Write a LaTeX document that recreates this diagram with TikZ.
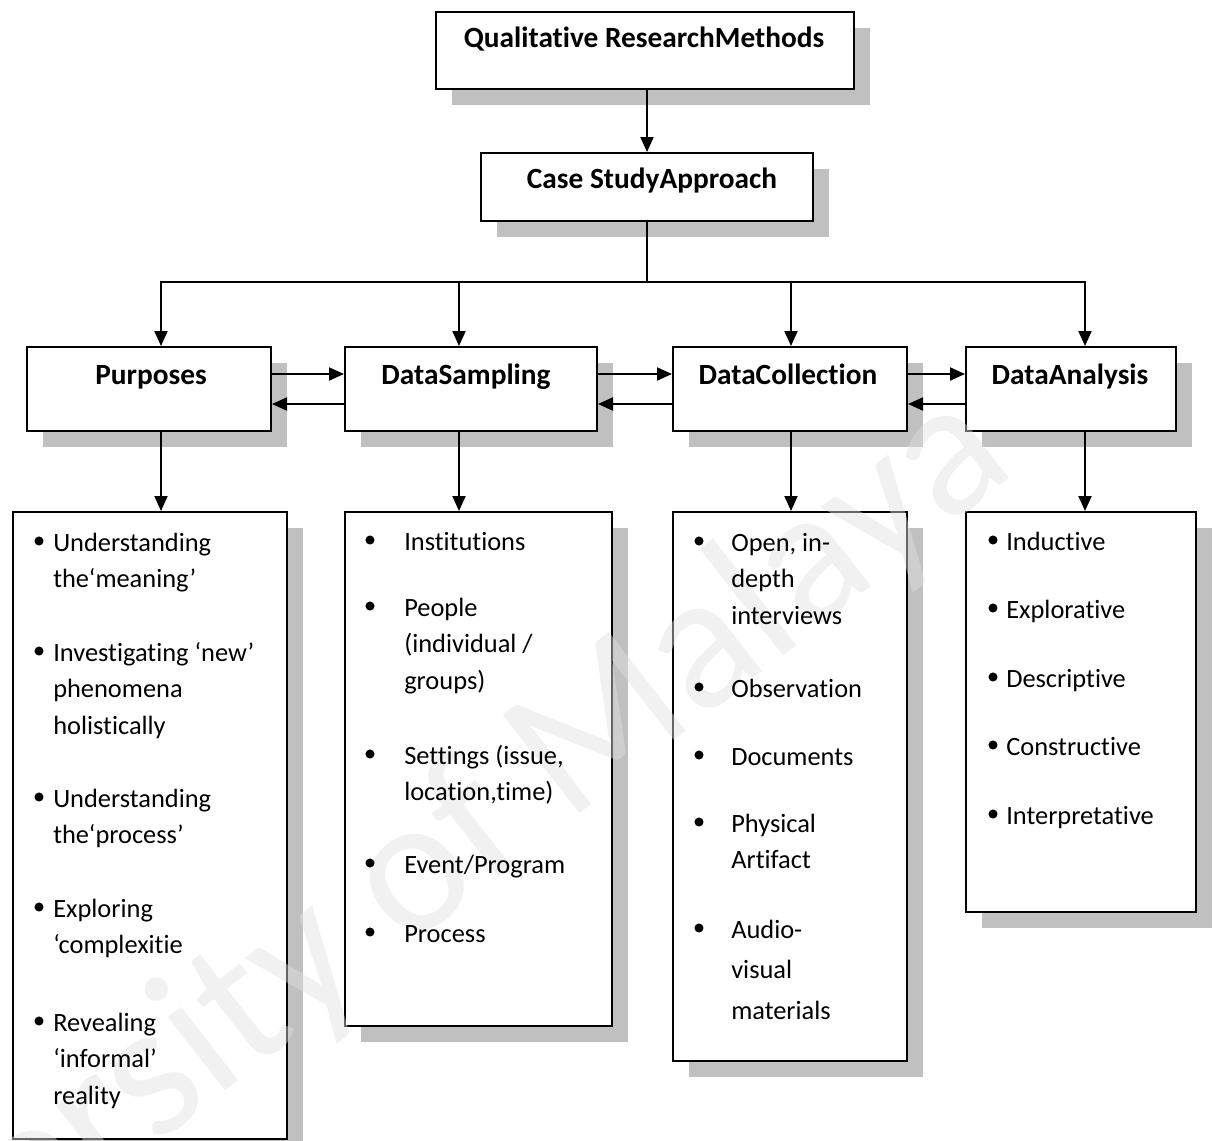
\documentclass[tikz,border=0pt]{standalone}
\usepackage{fontspec}
\setmainfont{Carlito}[Ligatures=NoCommon]
\usetikzlibrary{arrows.meta,shadows}
\definecolor{shadowgray}{RGB}{192,192,192}
\definecolor{markgray}{RGB}{225,225,225}
% stacked lines whose baseline is the first line
\newcommand\itemlines[1]{\begin{tabular}[t]{@{}l@{}}#1\end{tabular}}

\begin{document}
\begin{tikzpicture}[x=0.75pt,y=-0.75pt,
  box/.style={draw=black, fill=white, line width=1.5pt, rectangle, inner sep=0pt,
    anchor=north west,
    drop shadow={fill=shadowgray, opacity=1, shadow xshift=12pt, shadow yshift=-12pt}},
  ln/.style={line width=1.5pt},
  arr/.style={line width=1.5pt, -{Triangle[length=11.25pt,width=9.75pt]}},
  head/.style={font=\bfseries\fontsize{22}{26}\selectfont, anchor=base, inner sep=0pt},
  itm/.style={font=\fontsize{19.8}{27.4}\selectfont, anchor=base west, inner sep=0pt},
  dot/.style={fill=black}
]
\useasboundingbox (0,0) rectangle (1213,1140);

% ---------- boxes ----------
\node[box, minimum width={418*0.75pt}, minimum height={77*0.75pt}] (qrm) at (435,11) {};
\node[box, minimum width={332*0.75pt}, minimum height={68*0.75pt}] (csa) at (480,152) {};

\node[box, minimum width={244*0.75pt}, minimum height={84*0.75pt}] (pur)  at (26,346) {};
\node[box, minimum width={252*0.75pt}, minimum height={84*0.75pt}] (samp) at (344,346) {};
\node[box, minimum width={234*0.75pt}, minimum height={84*0.75pt}] (coll) at (672,346) {};
\node[box, minimum width={210*0.75pt}, minimum height={84*0.75pt}] (ana)  at (965,346) {};

\node[box, minimum width={274*0.75pt}, minimum height={627*0.75pt}] (pbox) at (12,511) {};
\node[box, minimum width={267*0.75pt}, minimum height={514*0.75pt}] (sbox) at (344,511) {};
\node[box, minimum width={234*0.75pt}, minimum height={549*0.75pt}] (cbox) at (672,511) {};
\node[box, minimum width={230*0.75pt}, minimum height={400*0.75pt}] (abox) at (965,511) {};

% ---------- faint watermark over the boxes ----------
\node[rotate=38, font=\fontsize{146}{146}\selectfont, text=markgray, opacity=0.45, inner sep=0pt]
  (wm) at (350,928) {University of Malaya};

% ---------- headings ----------
\node[head] (qrmT)  at (644,47)  {Qualitative ResearchMethods};
\node[head] (csaT)  at (652,188) {Case StudyApproach};
\node[head] (purT)  at (151,384) {Purposes};
\node[head] (sampT) at (466,384) {DataSampling};
\node[head] (collT) at (788,384) {DataCollection};
\node[head] (anaT)  at (1070,384) {DataAnalysis};

% ---------- connectors ----------
\draw[arr] (csa.north |- qrm.south) -- (csa.north);

\coordinate (busP) at (161,282);
\coordinate (busS) at (459,282);
\coordinate (busC) at (791,282);
\coordinate (busA) at (1085,282);
\draw[ln] (csa.south) -- (csa.south |- busP);
\draw[ln, line cap=rect] (busP) -- (busA);
\draw[arr] (busP) -- (busP |- pur.north);
\draw[arr] (busS) -- (busS |- samp.north);
\draw[arr] (busC) -- (busC |- coll.north);
\draw[arr] (busA) -- (busA |- ana.north);

\draw[arr] (busP |- pur.south)  -- (busP |- pbox.north);
\draw[arr] (busS |- samp.south) -- (busS |- sbox.north);
\draw[arr] (busC |- coll.south) -- (busC |- cbox.north);
\draw[arr] (busA |- ana.south)  -- (busA |- abox.north);

\draw[arr] ([yshift=11.25pt]pur.east)   -- ([yshift=11.25pt]samp.west);
\draw[arr] ([yshift=-11.25pt]samp.west) -- ([yshift=-11.25pt]pur.east);
\draw[arr] ([yshift=11.25pt]samp.east)  -- ([yshift=11.25pt]coll.west);
\draw[arr] ([yshift=-11.25pt]coll.west) -- ([yshift=-11.25pt]samp.east);
\draw[arr] ([yshift=11.25pt]coll.east)  -- ([yshift=11.25pt]ana.west);
\draw[arr] ([yshift=-11.25pt]ana.west)  -- ([yshift=-11.25pt]coll.east);

% ---------- Purposes list ----------
\foreach \yy in {551,661,807,917,1031} \fill[dot] (39,\yy-10) circle[radius=3.4pt];
\node[itm] (p1) at (53,551)  {\itemlines{Understanding\\the‘meaning’}};
\node[itm] (p2) at (53,661)  {\itemlines{Investigating ‘new’\\phenomena\\holistically}};
\node[itm] (p3) at (53,807)  {\itemlines{Understanding\\the‘process’}};
\node[itm] (p4) at (53,917)  {\itemlines{Exploring\\‘complexitie}};
\node[itm] (p5) at (53,1031) {\itemlines{Revealing\\‘informal’\\reality}};

% ---------- Data sampling list ----------
\foreach \yy in {550,616,764,873,942} \fill[dot] (370,\yy-10) circle[radius=3.4pt];
\node[itm] (s1) at (404,550) {Institutions};
\node[itm] (s2) at (404,616) {\itemlines{People\\(individual /\\groups)}};
\node[itm] (s3) at (404,764) {\itemlines{Settings (issue,\\location,time)}};
\node[itm] (s4) at (404,873) {Event/Program};
\node[itm] (s5) at (404,942) {Process};

% ---------- Data collection list ----------
\foreach \yy in {551,697,765,832,938} \fill[dot] (699,\yy-10) circle[radius=3.4pt];
\node[itm] (c1) at (731,551) {\itemlines{Open, in-\\depth\\interviews}};
\node[itm] (c2) at (731,697) {Observation};
\node[itm] (c3) at (731,765) {Documents};
\node[itm] (c4) at (731,832) {\itemlines{Physical\\Artifact}};
\node[itm] (c5) at (731,938) {\itemlines{Audio-\\[3pt]visual\\[3pt]materials}};

% ---------- Data analysis list ----------
\foreach \yy in {550,618,687,755,824} \fill[dot] (993,\yy-10) circle[radius=3.4pt];
\node[itm] (a1) at (1006,550) {Inductive};
\node[itm] (a2) at (1006,618) {Explorative};
\node[itm] (a3) at (1006,687) {Descriptive};
\node[itm] (a4) at (1006,755) {Constructive};
\node[itm] (a5) at (1006,824) {Interpretative};
\end{tikzpicture}
\end{document}
